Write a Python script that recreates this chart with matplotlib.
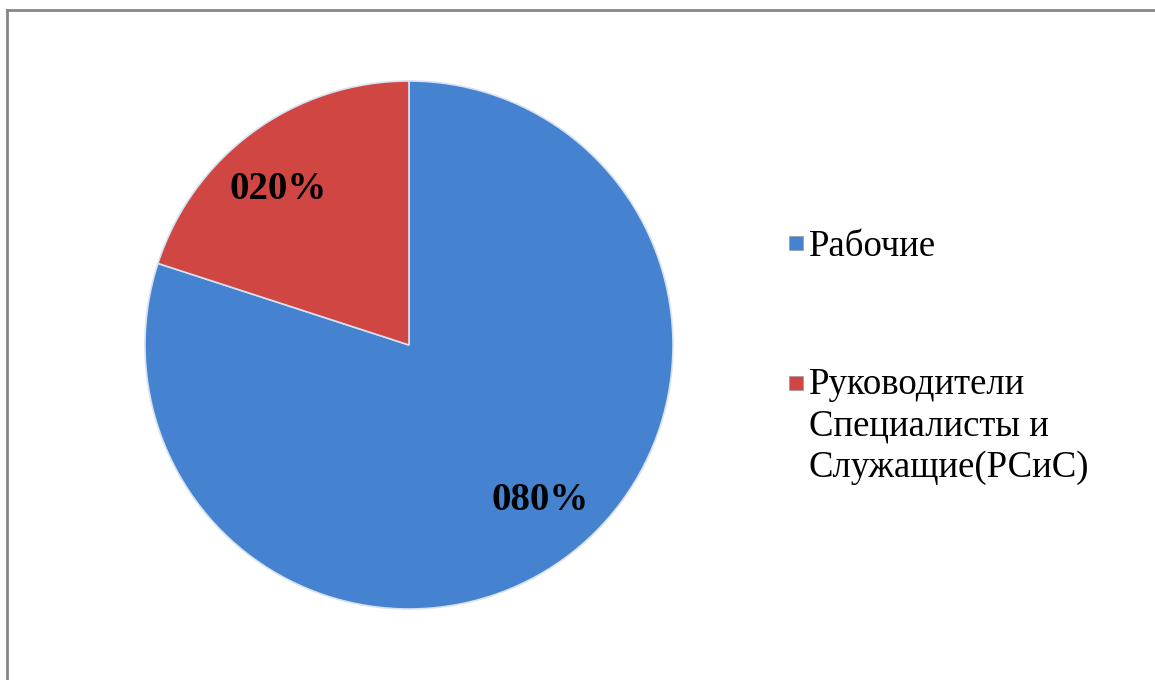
import matplotlib
matplotlib.use("Agg")
import matplotlib.pyplot as plt
from matplotlib.patches import Rectangle
import numpy as np

# data
labels = ["Рабочие", "Руководители\nСпециалисты и\nСлужащие(РСиС)"]
shares = [80, 20]
pct_text = ["080%", "020%"]
colors = ["#4582d0", "#d04643"]

W, H = 1155, 680
fig = plt.figure(figsize=(W / 100, H / 100), dpi=100)
fig.patch.set_facecolor("white")

# outer frame (only top and left edges are visible in the reference)
fig.add_artist(plt.Line2D([7 / W, 7 / W], [0, 1 - 10 / H], transform=fig.transFigure,
                          color="#868686", lw=2))
fig.add_artist(plt.Line2D([7 / W, 1], [1 - 10 / H, 1 - 10 / H], transform=fig.transFigure,
                          color="#868686", lw=2))

# pie
cx, cy, r = 409, 345, 264
ax = fig.add_axes([(cx - r) / W, (H - cy - r) / H, 2 * r / W, 2 * r / H])
wedges, _ = ax.pie(shares, colors=colors, startangle=90, counterclock=False,
                   radius=1.0, wedgeprops=dict(edgecolor="#d6e2f0", linewidth=1.2))
ax.set_xlim(-1, 1)
ax.set_ylim(-1, 1)
ax.set_aspect("equal")
ax.axis("off")

# percentage labels, slightly rotated from wedge middle like Excel places them
for w, t in zip(wedges, pct_text):
    mid = np.deg2rad((w.theta1 + w.theta2) / 2 + 4)
    ax.text(0.77 * np.cos(mid), 0.77 * np.sin(mid), t, ha="center", va="center",
            fontsize=28, fontweight="bold", family="Liberation Serif", color="black")

# legend drawn by hand so the marker sits on the first line
marker_y = [243, 383]
text_top = [230, 367]
for lab, col, my, ty in zip(labels, colors, marker_y, text_top):
    fig.patches.append(Rectangle((789 / W, (H - my - 7) / H), 14 / W, 14 / H,
                                 transform=fig.transFigure, facecolor=col,
                                 edgecolor="#9a9a9a", lw=0.5))
    fig.text(809 / W, (H - ty) / H, lab, ha="left", va="top",
             fontsize=26.5, family="Liberation Serif", color="black", linespacing=1.27)

fig.savefig("out.png", dpi=100, facecolor="white")
